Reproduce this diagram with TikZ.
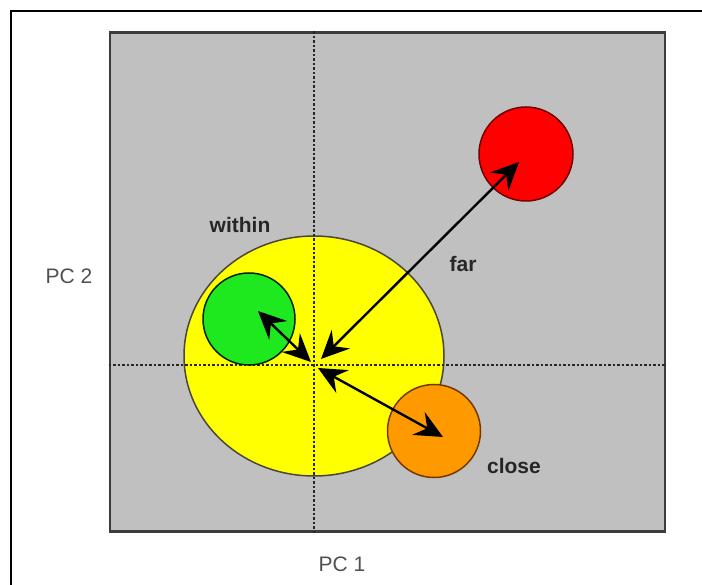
\documentclass[tikz,border=0pt]{standalone}
\usepackage{fontspec}
\setmainfont{Liberation Sans}
\usetikzlibrary{arrows.meta,shapes.geometric}
\definecolor{panelgray}{HTML}{C0C0C0}
\definecolor{panelline}{HTML}{3C3C3C}
\definecolor{myyellow}{HTML}{FFFF00}
\definecolor{myred}{HTML}{FF0000}
\definecolor{mygreen}{HTML}{1EE81E}
\definecolor{myorange}{HTML}{FF9900}
\definecolor{labeldark}{HTML}{262626}
\definecolor{labelgray}{HTML}{505050}
\tikzset{
  blob/.style={circle, draw, line width=1.5pt, inner sep=0pt, minimum size=93pt},
  guide/.style={line width=2pt, dash pattern=on 2.5pt off 2pt, black!85},
  tipstyle/.tip={Stealth[length=28pt,width=26pt,inset=10pt]},
  dist/.style={line width=2.4pt, tipstyle-tipstyle},
  boldlab/.style={font=\fontsize{21}{23}\selectfont\bfseries, text=labeldark, inner sep=0pt},
  axislab/.style={font=\fontsize{21}{24}\selectfont, text=labelgray, inner sep=0pt}
}
\begin{document}
\begin{tikzpicture}[x=1pt,y=-1pt]
\useasboundingbox (0,0) rectangle (702,585);
% outer frame (top and left)
\draw[line width=2pt, black] (11,585) -- (11,11) -- (702,11);
% panel
\node[draw=panelline, fill=panelgray, line width=2.6pt, minimum width=555pt, minimum height=499pt, inner sep=0pt] (panel) at (387.5,282) {};
% yellow ellipse
\node[ellipse, draw=black!70!yellow!60!black, fill=myyellow, line width=1.5pt, minimum width=260pt, minimum height=240pt, inner sep=0pt] (within) at (314,356) {};
% guide lines
\coordinate (c) at (314,365.5);
\draw[guide] (c |- panel.north) -- (c |- panel.south);
\draw[guide] (c -| panel.west) -- (c -| panel.east);
% circles
\node[blob, draw=black!65!green!40!black, fill=mygreen, minimum size=92pt] (g) at (249,319) {};
\node[blob, draw=red!45!black, fill=myred, minimum size=94pt] (r) at (526,154) {};
\node[blob, draw=orange!45!black, fill=myorange, minimum size=93pt] (o) at (434,431) {};
% arrow ends
\coordinate (farIn) at (321,359);
\coordinate (farOut) at (519,162);
\coordinate (grnIn) at (311,362);
\coordinate (grnOut) at (258,311);
\coordinate (orgIn) at (318,368);
\coordinate (orgOut) at (443,437);
\draw[dist] (farIn) -- (farOut);
\draw[dist] (grnIn) -- (grnOut);
\draw[dist] (orgIn) -- (orgOut);
% labels
\node[boldlab] (lwithin) at (240,225) {within};
\node[boldlab] (lfar) at (463,264) {far};
\node[boldlab] (lclose) at (514,466) {close};
\node[axislab] (pc2) at (69,276) {PC 2};
\node[axislab] (pc1) at (342,564) {PC 1};
\end{tikzpicture}
\end{document}
